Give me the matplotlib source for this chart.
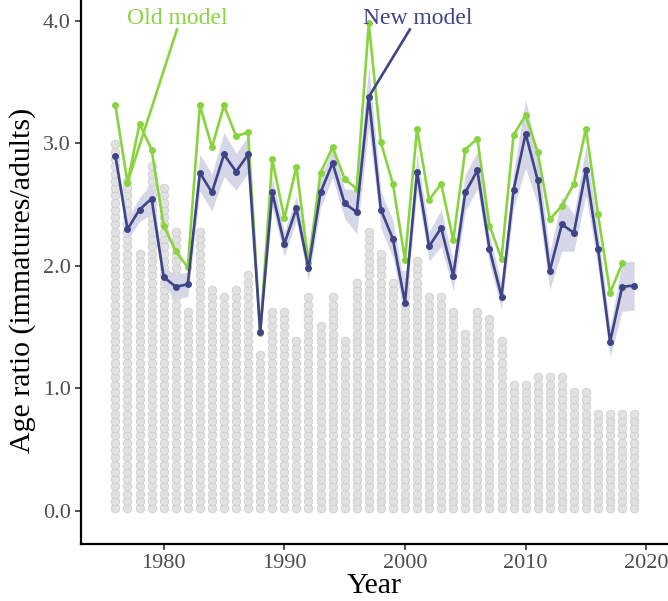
import numpy as np
import matplotlib
matplotlib.use("Agg")
import matplotlib.pyplot as plt

plt.rcParams["font.family"] = ["Liberation Serif", "DejaVu Serif"]

years = list(range(1976, 2020))

# number of sampled birds per year (one grey dot each)
dot_counts = [51, 46, 36, 48, 45, 39, 28, 39, 31, 30, 31, 33, 22, 28, 28, 24,
              30, 26, 30, 24, 32, 39, 36, 32, 33, 35, 30, 30, 28, 25, 28, 27,
              24, 18, 18, 19, 19, 19, 17, 17, 14, 14, 14, 14]

# age ratio estimates, old model (no estimate for 2019)
old_model = [3.31, 2.68, 3.16, 2.95, 2.33, 2.12, 1.99, 3.31, 2.97, 3.31, 3.06,
             3.09, 1.45, 2.87, 2.39, 2.81, 2.02, 2.76, 2.97, 2.71, 2.63, 3.98,
             3.01, 2.67, 2.05, 3.12, 2.54, 2.67, 2.21, 2.95, 3.04, 2.33, 2.06,
             3.07, 3.23, 2.93, 2.38, 2.49, 2.67, 3.12, 2.42, 1.78, 2.02, np.nan]

# age ratio estimates, new model
new_model = [2.90, 2.30, 2.46, 2.55, 1.91, 1.83, 1.85, 2.76, 2.60, 2.91, 2.77,
             2.91, 1.46, 2.60, 2.18, 2.47, 1.98, 2.60, 2.84, 2.51, 2.44, 3.38,
             2.46, 2.22, 1.70, 2.77, 2.16, 2.31, 1.92, 2.60, 2.78, 2.14, 1.75,
             2.62, 3.08, 2.70, 1.96, 2.34, 2.27, 2.78, 2.14, 1.38, 1.83, 1.84]

# half-width of the new model's uncertainty band
new_model_se = [0.05, 0.08, 0.10, 0.12, 0.08, 0.10, 0.10, 0.15, 0.15, 0.18, 0.15,
                0.15, 0.05, 0.12, 0.10, 0.10, 0.10, 0.12, 0.12, 0.12, 0.18, 0.25,
                0.15, 0.15, 0.12, 0.15, 0.12, 0.15, 0.12, 0.15, 0.15, 0.12, 0.10,
                0.15, 0.28, 0.20, 0.15, 0.22, 0.15, 0.20, 0.15, 0.12, 0.20, 0.20]

x_ticks = [1980, 1990, 2000, 2010, 2020]
y_ticks = [0.0, 1.0, 2.0, 3.0, 4.0]

green = "#88d43f"
blue = "#3f4488"

fig = plt.figure(figsize=(6.68, 6.01), dpi=100)
ax = fig.add_axes([0.1213, 0.0948, 0.8787, 0.905])

# stacked dot columns
dot_base, dot_step = 0.022, 0.0594
dx, dy = [], []
for yr, n in zip(years, dot_counts):
    for i in range(n):
        dx.append(yr)
        dy.append(dot_base + i * dot_step)
ax.scatter(dx, dy, s=38, facecolor="#e1e1e1", edgecolor="#cdcdcd",
           linewidth=0.6, zorder=1)

yrs = np.array(years, dtype=float)
new = np.array(new_model)
se = np.array(new_model_se)
ax.fill_between(yrs, new - se, new + se, color="#d5d7e6", lw=0, zorder=2)

ax.plot(yrs, old_model, color=green, lw=1.9, marker="o", ms=4, zorder=3)
ax.plot(yrs, new, color=blue, lw=1.9, marker="o", ms=4, zorder=4)

# labels with leader lines
ax.text(1981.1, 4.02, "Old model", color=green, fontsize=17, ha="center", va="center")
ax.plot([1981.1, years[1]], [3.93, old_model[1]], color=green, lw=1.9, zorder=3)
ax.text(2001.05, 4.02, "New model", color=blue, fontsize=17, ha="center", va="center")
ax.plot([2000.4, years[21]], [3.93, new_model[21]], color=blue, lw=1.9, zorder=4)

ax.set_xlim(1973.15, 2021.8)
ax.set_ylim(-0.27, 4.17)
ax.set_xticks(x_ticks)
ax.set_yticks(y_ticks)
ax.set_yticklabels([f"{v:.1f}" for v in y_ticks])
ax.tick_params(labelsize=16, labelcolor="#4d4d4d", color="#333333", length=4, width=1.2)
for side in ("top", "right"):
    ax.spines[side].set_visible(False)
for side in ("left", "bottom"):
    ax.spines[side].set_linewidth(1.6)
ax.set_xlabel("Year", fontsize=21.5, labelpad=0)
ax.set_ylabel("Age ratio (immatures/adults)", fontsize=21.5)
ax.yaxis.set_label_coords(-0.077, 0.485)

fig.savefig("out.png", dpi=100)
